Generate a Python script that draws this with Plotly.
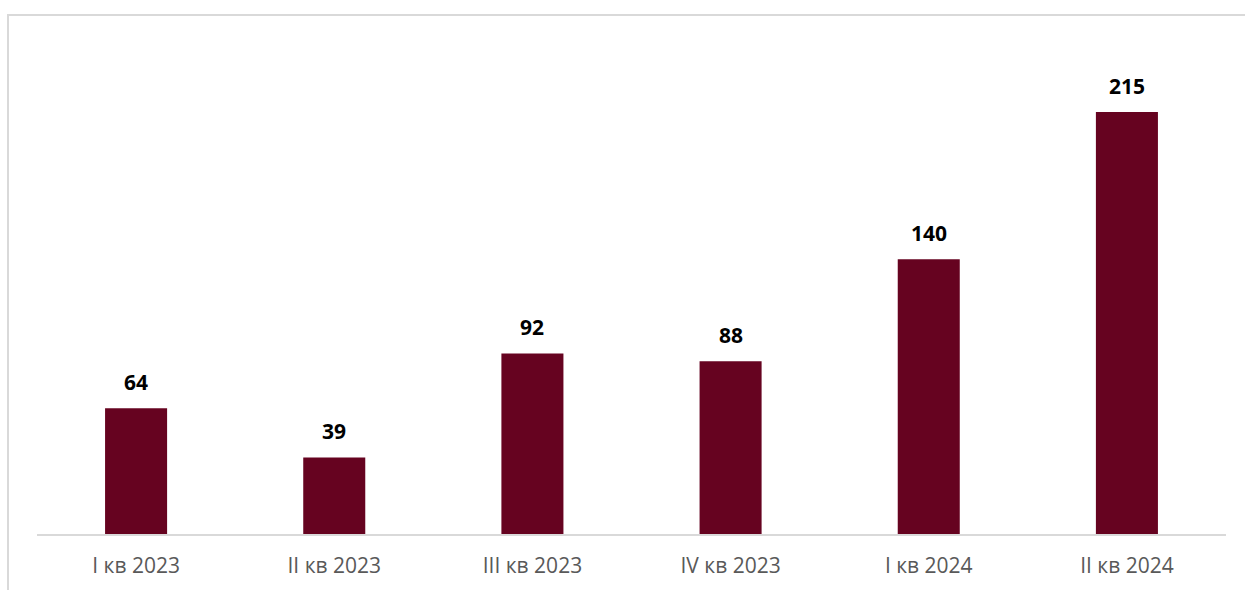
import plotly.graph_objects as go

categories = ["I кв 2023", "II кв 2023", "III кв 2023", "IV кв 2023", "I кв 2024", "II кв 2024"]
values = [64, 39, 92, 88, 140, 215]

W, H = 1245, 590
ml, mr, mt, mb = 37, 19, 15, 56
pw, ph = W - ml - mr, H - mt - mb

def px_x(p):
    return (p - ml) / pw

def px_y(p):
    return (H - mb - p) / ph

fig = go.Figure()
fig.add_trace(go.Bar(
    x=categories, y=values,
    marker=dict(color="#660320", line=dict(width=0)),
    hoverinfo="x+y",
))

for c, v in zip(categories, values):
    fig.add_annotation(
        x=c, y=v, text=f"<b>{v}</b>", showarrow=False,
        yanchor="middle", yshift=26,
        font=dict(family="Open Sans", size=21, color="#000000"),
    )

frame_col = "#d9d9d9"
fig.add_shape(type="line", xref="paper", yref="paper",
              x0=px_x(7), x1=px_x(W + 5), y0=px_y(15), y1=px_y(15),
              line=dict(color=frame_col, width=2))
fig.add_shape(type="line", xref="paper", yref="paper",
              x0=px_x(8), x1=px_x(8), y0=px_y(14), y1=px_y(H + 5),
              line=dict(color=frame_col, width=2))

fig.update_layout(
    width=W, height=H,
    margin=dict(l=ml, r=mr, t=mt, b=mb),
    paper_bgcolor="white", plot_bgcolor="white",
    bargap=0.687,
    showlegend=False,
    xaxis=dict(
        showline=True, linecolor="#d9d9d9", linewidth=1.5,
        ticks="", showgrid=False, zeroline=False,
        tickfont=dict(family="Open Sans", size=21, color="#595959"),
        ticklabelstandoff=12,
    ),
    yaxis=dict(
        range=[0, 264.4], visible=False, showgrid=False, zeroline=False,
    ),
)

fig.write_html("out.html")
